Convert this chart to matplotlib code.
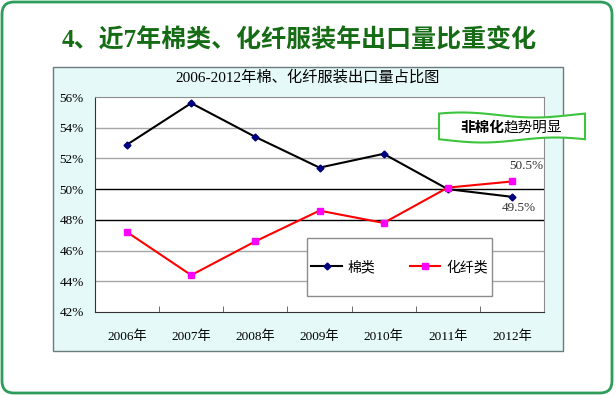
import numpy as np
import matplotlib
matplotlib.use("Agg")
import matplotlib.pyplot as plt
from matplotlib.patches import Rectangle, FancyBboxPatch, Polygon
from matplotlib.lines import Line2D

plt.rcParams["font.family"] = ["Liberation Serif", "Noto Sans CJK SC", "DejaVu Sans"]

years = ["2006年", "2007年", "2008年", "2009年", "2010年", "2011年", "2012年"]
cotton = [52.9, 55.6, 53.4, 51.4, 52.3, 50.0, 49.5]
fiber = [47.2, 44.4, 46.6, 48.6, 47.8, 50.1, 50.5]
series_names = ["棉类", "化纤类"]
y_ticks = [42, 44, 46, 48, 50, 52, 54, 56]
main_title = "4、近7年棉类、化纤服装年出口量比重变化"
chart_title = "2006-2012年棉、化纤服装出口量占比图"

W, H = 616, 395
fig = plt.figure(figsize=(W / 100, H / 100), dpi=100)
fig.patch.set_facecolor("white")


def box_px(x0, y0, x1, y1):
    # pixel box (top-left origin) -> inches for dpi_scale_trans
    return x0 / 100, (H - y1) / 100, (x1 - x0) / 100, (y1 - y0) / 100


# rounded green frame
bx, by, bw, bh = box_px(2, 2, 612, 393)
fig.add_artist(FancyBboxPatch((bx, by), bw, bh, boxstyle="round,pad=0,rounding_size=0.12",
                              transform=fig.dpi_scale_trans, fc="white", ec="#2e9c5a",
                              lw=2, zorder=-10))

# chart background box
cx, cy, cw, ch = box_px(53, 67, 563, 351)
fig.add_artist(Rectangle((cx, cy), cw, ch, transform=fig.dpi_scale_trans,
                         fc="#e6f9f9", ec="#6b7b7b", lw=1, zorder=-5))

fig.text(299 / W, 1 - 40 / H, main_title, ha="center", va="center",
         fontsize=18, fontweight="bold", color="#156c15")
fig.text(308 / W, 1 - 77 / H, chart_title, ha="center", va="center",
         fontsize=11, color="black")

ax = fig.add_axes([95 / W, (H - 312) / H, 449 / W, 215 / H])
ax.set_facecolor("white")
x = np.arange(len(years))

for lvl in y_ticks[1:-1]:
    ax.axhline(lvl, color="black" if lvl in (48, 50) else "#a6a6a6", lw=1, zorder=1)

ax.plot(x, cotton, color="black", lw=1.5, marker="D", ms=3.5,
        mfc="#000080", mec="#000080", zorder=4, label=series_names[0])
ax.plot(x, fiber, color="red", lw=1.5, marker="s", ms=5,
        mfc="#ff00ff", mec="#ff00ff", zorder=4, label=series_names[1])

ax.set_xlim(-0.5, len(years) - 0.5)
ax.set_ylim(y_ticks[0], y_ticks[-1])
ax.set_yticks(y_ticks)
ax.set_yticklabels([f"{v}%" for v in y_ticks], fontsize=9.5)
ax.set_xticks(x)
ax.set_xticklabels(years, fontsize=9.5)
ax.set_xticks(np.arange(0.5, len(years) - 1), minor=True)
ax.tick_params(axis="x", which="major", length=0, pad=13)
ax.tick_params(axis="x", which="minor", length=4, direction="in", color="#555555")
ax.tick_params(axis="y", length=0, pad=8)
for side in ["top", "right"]:
    ax.spines[side].set_color("#8c8c8c")
for side in ["left", "bottom"]:
    ax.spines[side].set_color("#333333")

# end labels
ax.annotate(f"{fiber[-1]}%", (x[-1], fiber[-1]), xytext=(10, 7), textcoords="offset points",
            ha="center", va="bottom", fontsize=9.5, color="#333333", zorder=6)
ax.annotate(f"{cotton[-1]}%", (x[-1], cotton[-1]), xytext=(5, -4), textcoords="offset points",
            ha="center", va="top", fontsize=9.5, color="#333333", zorder=6)

# legend box
ax.add_patch(Rectangle((0.472, 0.074), 0.412, 0.27, transform=ax.transAxes,
                       fc="white", ec="#8c8c8c", lw=1, zorder=3))
handles = [
    Line2D([], [], color="black", lw=1.5, marker="D", ms=3.5, mfc="#000080", mec="#000080"),
    Line2D([], [], color="red", lw=1.5, marker="s", ms=5, mfc="#ff00ff", mec="#ff00ff"),
]
ax.legend(handles, series_names, loc="center", bbox_to_anchor=(0.678, 0.209),
          ncol=2, frameon=False, fontsize=10, handlelength=2.2, columnspacing=2.5,
          handletextpad=0.4).set_zorder(5)

# wavy callout
t = np.linspace(0, 1, 60)
xs = 439 + 146 * t
top = 115 - 2.5 * np.sin(2 * np.pi * t + 0.6)
bot = 140 + 2.5 * np.sin(2 * np.pi * t - 0.3)
pts = np.vstack([np.column_stack([xs, top]), np.column_stack([xs[::-1], bot[::-1]])])
pts_in = np.column_stack([pts[:, 0] / 100, (H - pts[:, 1]) / 100])
fig.add_artist(Polygon(pts_in, closed=True, transform=fig.dpi_scale_trans,
                       fc="white", ec="#3cc43c", lw=1.5, zorder=8))
fig.text(504 / W, 1 - 128 / H, "非棉化", ha="right", va="center",
         fontsize=10.5, fontweight="bold", zorder=9)
fig.text(504 / W, 1 - 128 / H, "趋势明显", ha="left", va="center",
         fontsize=10.5, zorder=9)

fig.savefig("out.png", dpi=100)
